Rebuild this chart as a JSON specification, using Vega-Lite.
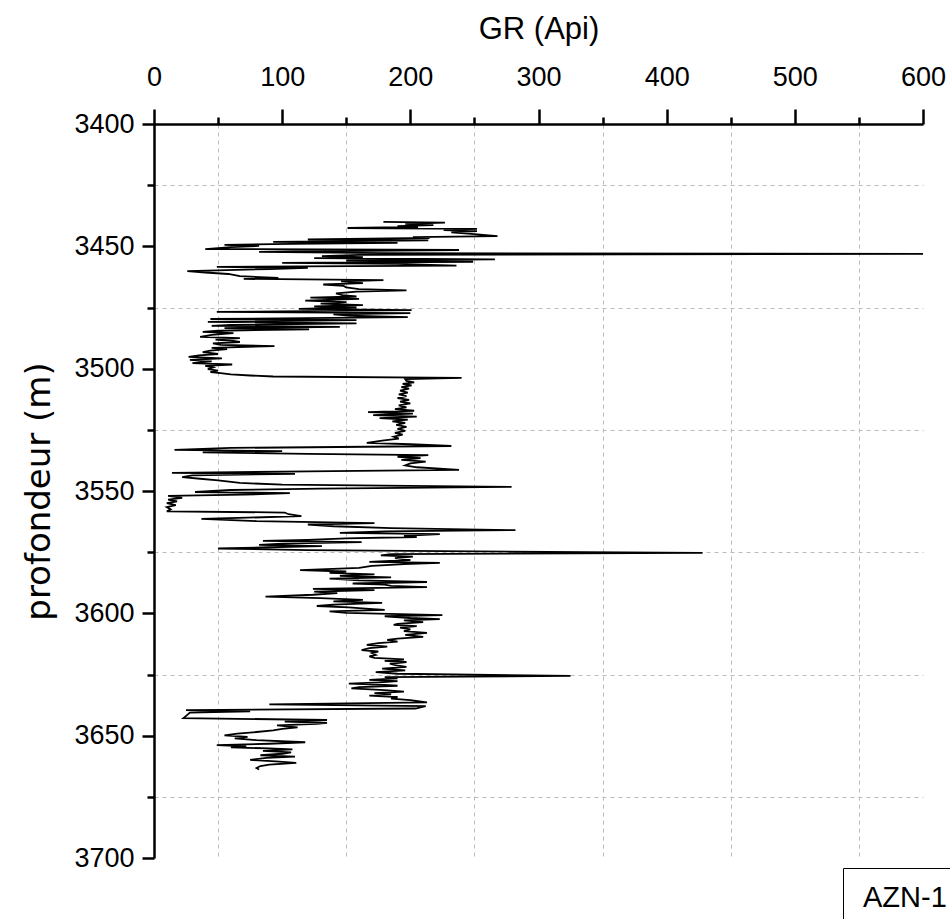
{
  "$schema": "https://vega.github.io/schema/vega-lite/v6.json",
  "width": 769,
  "height": 734,
  "autosize": {"type": "none"},
  "padding": {"left": 154, "top": 124, "right": 27, "bottom": 61},
  "background": "white",
  "view": {"stroke": null},
  "data": {"values": [
    {"d":3440.0,"gr":179},{"d":3440.3,"gr":227},{"d":3440.8,"gr":196},{"d":3441.3,"gr":218},{"d":3441.7,"gr":190},{"d":3442.1,"gr":206},{"d":3442.5,"gr":151},{"d":3442.9,"gr":252},{"d":3443.4,"gr":226},{"d":3443.8,"gr":252},{"d":3444.3,"gr":232},{"d":3445.0,"gr":250},{"d":3445.8,"gr":268},{"d":3446.2,"gr":202},{"d":3446.6,"gr":215},{"d":3447.2,"gr":120},{"d":3447.6,"gr":214},{"d":3448.2,"gr":93},{"d":3448.6,"gr":190},{"d":3449.0,"gr":108},{"d":3449.4,"gr":55},{"d":3449.8,"gr":82},{"d":3450.3,"gr":60},{"d":3451.1,"gr":40},{"d":3451.5,"gr":238},{"d":3452.0,"gr":120},{"d":3452.3,"gr":82},{"d":3452.8,"gr":180},{"d":3453.1,"gr":600},{"d":3453.5,"gr":160},{"d":3454.0,"gr":131},{"d":3454.4,"gr":163},{"d":3454.8,"gr":125},{"d":3455.3,"gr":266},{"d":3455.8,"gr":150},{"d":3456.3,"gr":249},{"d":3456.8,"gr":100},{"d":3457.2,"gr":190},{"d":3457.9,"gr":236},{"d":3458.4,"gr":49},{"d":3458.8,"gr":120},{"d":3459.3,"gr":90},{"d":3460.1,"gr":26},{"d":3460.7,"gr":40},{"d":3461.3,"gr":58},{"d":3462.2,"gr":67},{"d":3462.9,"gr":97},{"d":3463.3,"gr":70},{"d":3463.8,"gr":179},{"d":3464.3,"gr":146},{"d":3465.0,"gr":163},{"d":3465.6,"gr":132},{"d":3466.2,"gr":148},{"d":3466.8,"gr":150},{"d":3467.5,"gr":160},{"d":3468.0,"gr":197},{"d":3468.5,"gr":158},{"d":3469.2,"gr":142},{"d":3469.9,"gr":147},{"d":3470.5,"gr":158},{"d":3471.0,"gr":122},{"d":3471.5,"gr":160},{"d":3472.2,"gr":118},{"d":3472.8,"gr":150},{"d":3473.4,"gr":130},{"d":3474.0,"gr":163},{"d":3474.5,"gr":125},{"d":3475.0,"gr":158},{"d":3475.6,"gr":113},{"d":3476.1,"gr":201},{"d":3476.8,"gr":49},{"d":3477.3,"gr":200},{"d":3477.8,"gr":140},{"d":3478.3,"gr":152},{"d":3478.9,"gr":198},{"d":3479.7,"gr":44},{"d":3480.2,"gr":158},{"d":3480.9,"gr":42},{"d":3481.5,"gr":158},{"d":3482.1,"gr":60},{"d":3482.5,"gr":45},{"d":3482.9,"gr":145},{"d":3483.4,"gr":55},{"d":3483.9,"gr":121},{"d":3484.5,"gr":50},{"d":3485.0,"gr":38},{"d":3485.5,"gr":62},{"d":3486.2,"gr":45},{"d":3487.0,"gr":36},{"d":3487.5,"gr":67},{"d":3488.1,"gr":48},{"d":3488.7,"gr":62},{"d":3489.1,"gr":67},{"d":3489.7,"gr":46},{"d":3490.3,"gr":52},{"d":3490.8,"gr":94},{"d":3491.5,"gr":45},{"d":3492.0,"gr":57},{"d":3492.6,"gr":44},{"d":3493.2,"gr":38},{"d":3494.0,"gr":50},{"d":3494.6,"gr":35},{"d":3495.2,"gr":27},{"d":3495.8,"gr":53},{"d":3496.4,"gr":28},{"d":3497.0,"gr":45},{"d":3497.7,"gr":30},{"d":3498.3,"gr":61},{"d":3498.9,"gr":40},{"d":3499.5,"gr":46},{"d":3500.2,"gr":42},{"d":3500.8,"gr":50},{"d":3501.4,"gr":44},{"d":3501.8,"gr":52},{"d":3502.3,"gr":60},{"d":3502.8,"gr":75},{"d":3503.2,"gr":93},{"d":3503.8,"gr":240},{"d":3504.3,"gr":196},
    {"d":3505.0,"gr":197},{"d":3505.6,"gr":203},{"d":3506.2,"gr":194},{"d":3506.8,"gr":201},{"d":3507.5,"gr":193},{"d":3508.2,"gr":199},{"d":3509.0,"gr":192},{"d":3509.8,"gr":198},{"d":3510.5,"gr":191},{"d":3511.2,"gr":197},{"d":3512.0,"gr":190},{"d":3512.8,"gr":199},{"d":3513.5,"gr":192},{"d":3514.2,"gr":200},{"d":3515.0,"gr":191},{"d":3515.8,"gr":197},{"d":3516.5,"gr":188},{"d":3517.2,"gr":203},{"d":3517.8,"gr":167},{"d":3518.4,"gr":202},{"d":3519.0,"gr":171},{"d":3519.6,"gr":205},{"d":3520.2,"gr":176},{"d":3520.8,"gr":198},{"d":3521.5,"gr":186},{"d":3522.2,"gr":196},{"d":3523.0,"gr":189},{"d":3523.8,"gr":197},{"d":3524.6,"gr":190},{"d":3525.4,"gr":196},{"d":3526.2,"gr":188},{"d":3527.0,"gr":194},{"d":3527.8,"gr":187},{"d":3528.6,"gr":191},{"d":3529.4,"gr":178},{"d":3530.3,"gr":166},{"d":3530.9,"gr":200},{"d":3531.6,"gr":232},{"d":3532.4,"gr":60},{"d":3533.2,"gr":16},{"d":3533.7,"gr":100},{"d":3534.2,"gr":38},{"d":3534.8,"gr":120},{"d":3535.3,"gr":214},{"d":3536.0,"gr":190},{"d":3536.6,"gr":208},{"d":3537.3,"gr":193},{"d":3538.0,"gr":212},{"d":3538.7,"gr":200},{"d":3539.5,"gr":196},{"d":3540.3,"gr":205},{"d":3541.4,"gr":238},{"d":3542.0,"gr":120},{"d":3542.6,"gr":14},{"d":3543.0,"gr":110},{"d":3543.6,"gr":30},{"d":3544.3,"gr":22},{"d":3545.0,"gr":36},{"d":3545.7,"gr":50},{"d":3546.7,"gr":67},{"d":3547.4,"gr":100},{"d":3548.3,"gr":279},{"d":3549.0,"gr":130},{"d":3549.6,"gr":60},{"d":3550.4,"gr":32},{"d":3550.9,"gr":106},{"d":3551.5,"gr":70},{"d":3552.0,"gr":11},{"d":3552.8,"gr":22},{"d":3553.5,"gr":11},{"d":3554.2,"gr":18},{"d":3555.0,"gr":10},{"d":3555.8,"gr":17},{"d":3556.6,"gr":10},{"d":3557.5,"gr":13},{"d":3558.3,"gr":10},{"d":3558.8,"gr":102},{"d":3559.5,"gr":105},{"d":3560.3,"gr":115},{"d":3561.4,"gr":37},{"d":3562.3,"gr":80},{"d":3563.1,"gr":172},{"d":3563.7,"gr":120},{"d":3564.4,"gr":140},{"d":3565.2,"gr":185},{"d":3566.0,"gr":282},{"d":3566.5,"gr":180},{"d":3567.1,"gr":145},{"d":3567.6,"gr":223},{"d":3568.3,"gr":195},{"d":3568.8,"gr":205},{"d":3569.4,"gr":150},{"d":3570.0,"gr":120},{"d":3570.4,"gr":85},{"d":3570.9,"gr":162},{"d":3571.5,"gr":100},{"d":3572.0,"gr":82},{"d":3572.5,"gr":131},{"d":3573.0,"gr":90},{"d":3573.5,"gr":50},{"d":3574.2,"gr":120},{"d":3575.3,"gr":428},{"d":3575.8,"gr":185},{"d":3576.3,"gr":177},{"d":3576.8,"gr":202},{"d":3577.4,"gr":188},{"d":3578.2,"gr":200},{"d":3579.0,"gr":168},{"d":3579.4,"gr":223},{"d":3579.9,"gr":195},{"d":3580.6,"gr":170},{"d":3581.4,"gr":160},{"d":3582.3,"gr":114},{"d":3582.9,"gr":150},{"d":3583.5,"gr":137},{"d":3584.1,"gr":172},{"d":3584.7,"gr":145},{"d":3585.3,"gr":185},{"d":3585.8,"gr":137},{"d":3586.5,"gr":160},{"d":3587.2,"gr":213},{"d":3587.8,"gr":155},{"d":3588.3,"gr":180},{"d":3588.8,"gr":185},{"d":3589.3,"gr":213},{"d":3590.0,"gr":124},{"d":3590.5,"gr":172},{"d":3591.1,"gr":125},{"d":3591.7,"gr":143},{"d":3592.4,"gr":124},{"d":3593.2,"gr":87},{"d":3593.8,"gr":130},{"d":3594.5,"gr":163},{"d":3595.1,"gr":140},{"d":3595.7,"gr":178},{"d":3596.4,"gr":140},{"d":3597.0,"gr":127},{"d":3597.6,"gr":152},{"d":3598.1,"gr":165},{"d":3598.6,"gr":180},{"d":3599.2,"gr":137},{"d":3599.8,"gr":150},{"d":3600.7,"gr":225},{"d":3601.2,"gr":180},{"d":3601.9,"gr":200},{"d":3602.4,"gr":223},{"d":3602.9,"gr":195},{"d":3603.6,"gr":210},{"d":3604.3,"gr":190},{"d":3604.7,"gr":187},{"d":3605.2,"gr":205},{"d":3605.8,"gr":192},{"d":3606.6,"gr":200},{"d":3607.3,"gr":195},{"d":3608.0,"gr":213},{"d":3608.8,"gr":196},{"d":3609.6,"gr":210},{"d":3610.3,"gr":190},{"d":3610.9,"gr":182},{"d":3611.6,"gr":190},{"d":3612.2,"gr":175},{"d":3612.9,"gr":166},{"d":3613.6,"gr":182},{"d":3614.2,"gr":168},{"d":3615.0,"gr":162},{"d":3615.6,"gr":175},{"d":3616.2,"gr":170},{"d":3617.0,"gr":173},{"d":3617.6,"gr":168},{"d":3618.2,"gr":172},{"d":3618.8,"gr":195},{"d":3619.4,"gr":180},{"d":3619.9,"gr":197},{"d":3620.6,"gr":184},{"d":3621.3,"gr":189},{"d":3621.9,"gr":197},{"d":3622.6,"gr":178},{"d":3623.3,"gr":196},{"d":3624.0,"gr":173},{"d":3624.7,"gr":190},{"d":3625.6,"gr":325},{"d":3626.1,"gr":180},{"d":3626.6,"gr":190},{"d":3627.2,"gr":168},{"d":3627.7,"gr":190},{"d":3628.2,"gr":176},{"d":3628.7,"gr":152},{"d":3629.2,"gr":180},{"d":3629.6,"gr":190},{"d":3630.2,"gr":160},{"d":3630.7,"gr":154},{"d":3631.4,"gr":180},{"d":3632.0,"gr":195},{"d":3632.6,"gr":172},{"d":3633.1,"gr":185},{"d":3633.6,"gr":168},{"d":3634.2,"gr":190},{"d":3634.9,"gr":185},{"d":3635.5,"gr":200},{"d":3636.4,"gr":213},{"d":3637.2,"gr":90},{"d":3637.9,"gr":212},{"d":3638.9,"gr":204},{"d":3639.6,"gr":25},{"d":3640.1,"gr":75},{"d":3640.6,"gr":28},{"d":3641.5,"gr":26},{"d":3642.8,"gr":23},{"d":3643.6,"gr":135},{"d":3644.3,"gr":102},{"d":3644.8,"gr":135},{"d":3645.2,"gr":127},{"d":3645.8,"gr":96},{"d":3646.6,"gr":112},{"d":3647.2,"gr":100},{"d":3647.8,"gr":93},{"d":3648.5,"gr":80},{"d":3649.2,"gr":65},{"d":3649.9,"gr":55},{"d":3650.5,"gr":73},{"d":3651.1,"gr":63},{"d":3651.8,"gr":80},{"d":3652.7,"gr":118},{"d":3653.3,"gr":90},{"d":3653.9,"gr":49},{"d":3654.4,"gr":72},{"d":3654.8,"gr":60},{"d":3655.2,"gr":90},{"d":3655.6,"gr":108},{"d":3656.2,"gr":85},{"d":3656.8,"gr":107},{"d":3657.4,"gr":100},{"d":3658.0,"gr":83},{"d":3658.6,"gr":110},{"d":3659.1,"gr":88},{"d":3659.9,"gr":75},{"d":3660.5,"gr":95},{"d":3661.1,"gr":111},{"d":3661.8,"gr":90},{"d":3662.4,"gr":83},{"d":3663.2,"gr":80},{"d":3663.8,"gr":82}
  ]},
  "mark": {"type": "line", "strokeWidth": 1.8, "clip": false},
  "encoding": {
    "x": {
      "field": "gr", "type": "quantitative",
      "scale": {"domain": [0, 600], "nice": false, "zero": false},
      "axis": {
        "orient": "top",
        "title": "GR (Api)",
        "values": [0,50,100,150,200,250,300,350,400,450,500,550,600],
        "labelExpr": "datum.value % 100 === 0 ? datum.label : ''",
        "labelFont": "Liberation Sans",
        "labelFontSize": 27,
        "labelColor": "black",
        "labelPadding": 18,
        "labelFlush": false,
        "labelOverlap": false,
        "titleFont": "Liberation Sans",
        "titleFontSize": 31,
        "titleFontWeight": "normal",
        "titleColor": "black",
        "titlePadding": 18,
        "domainColor": "black",
        "domainWidth": 2.5,
        "tickColor": "black",
        "tickWidth": 2.5,
        "tickSize": {"condition": {"test": "datum.value % 100 === 0", "value": 15}, "value": 7},
        "grid": true,
        "gridColor": "#bbbbbb",
        "gridWidth": 1,
        "gridDash": [4, 4],
        "gridOpacity": {"condition": {"test": "datum.value % 100 === 0", "value": 0}, "value": 1}
      }
    },
    "y": {
      "field": "d", "type": "quantitative",
      "scale": {"domain": [3400, 3700], "nice": false, "zero": false, "reverse": true},
      "axis": {
        "orient": "left",
        "title": "profondeur (m)",
        "values": [3400,3425,3450,3475,3500,3525,3550,3575,3600,3625,3650,3675,3700],
        "format": "d",
        "labelExpr": "datum.value % 50 === 0 ? datum.label : ''",
        "labelFont": "Liberation Sans",
        "labelFontSize": 27,
        "labelColor": "black",
        "labelPadding": 8,
        "labelFlush": false,
        "labelOverlap": false,
        "titleFont": "DejaVu Sans",
        "titleFontSize": 34,
        "titleFontWeight": "normal",
        "titleColor": "black",
        "titlePadding": 17,
        "domainColor": "black",
        "domainWidth": 2.5,
        "tickColor": "black",
        "tickWidth": 2.5,
        "tickSize": {"condition": {"test": "datum.value % 50 === 0", "value": 12}, "value": 7},
        "grid": true,
        "gridColor": "#bbbbbb",
        "gridWidth": 1,
        "gridDash": [4, 4],
        "gridOpacity": {"condition": {"test": "datum.value % 50 === 0", "value": 0}, "value": 1}
      }
    },
    "order": {"field": "d", "type": "quantitative"},
    "color": {
      "datum": "AZN-1",
      "scale": {"range": ["black"]},
      "legend": {
        "title": null,
        "orient": "none",
        "legendX": 689,
        "legendY": 744,
        "strokeColor": "black",
        "fillColor": "white",
        "padding": 15,
        "labelOffset": -24,
        "labelFont": "Liberation Sans",
        "labelFontSize": 29,
        "labelColor": "black",
        "symbolType": "circle",
        "symbolSize": 0,
        "symbolOpacity": 0,
        "symbolStrokeWidth": 0
      }
    }
  }
}
